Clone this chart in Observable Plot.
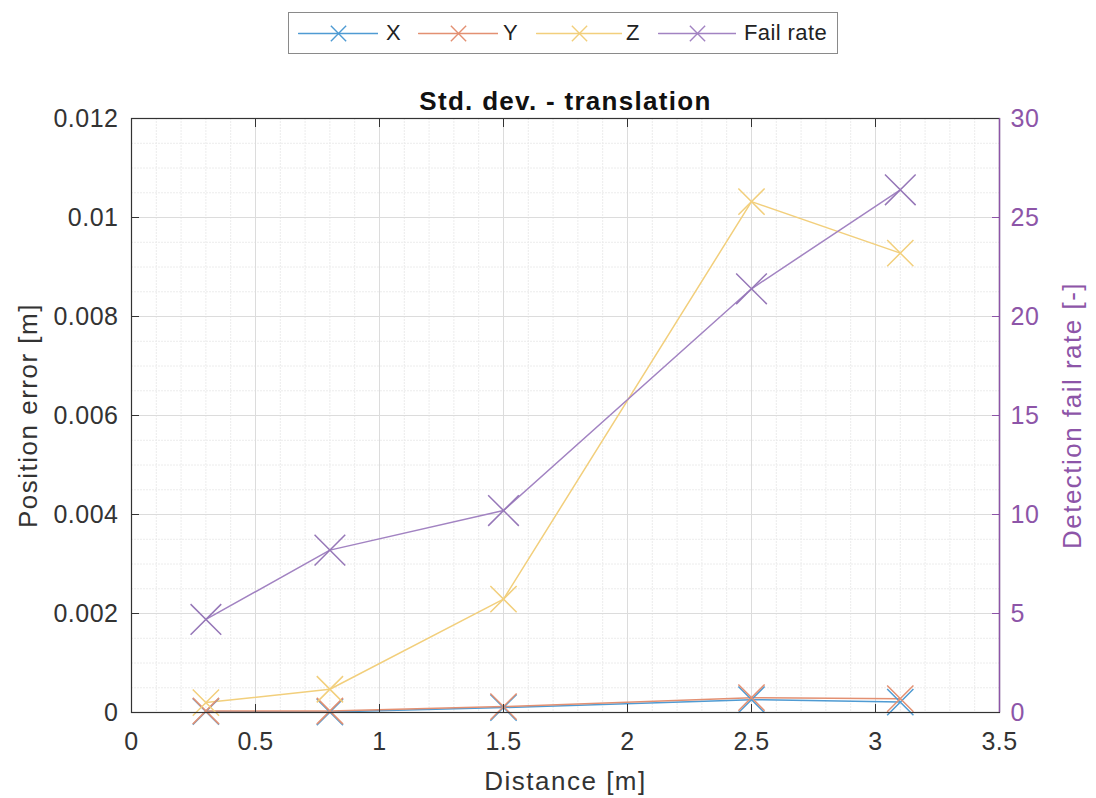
<!DOCTYPE html>
<html>
<head>
<meta charset="utf-8">
<script src="https://cdn.jsdelivr.net/npm/d3@7"></script>
<script src="https://cdn.jsdelivr.net/npm/@observablehq/plot@0.6"></script>
<style>
  body { margin: 0; background: #fff; font-family: "Liberation Sans", Arial, sans-serif; }
  #wrap { position: relative; width: 1096px; height: 798px; }
  #legend { position: absolute; left: 288px; top: 12px; width: 550px; height: 42px; border: 1px solid #8a8a8a; box-sizing: border-box; background: #fff; font-size: 22px; color: #222; }
  .sw { position: absolute; top: 8px; display: block; }
  .lab { position: absolute; top: 7px; letter-spacing: 0.4px; line-height: 26px; }
</style>
</head>
<body>
<div id="wrap">
  <div id="chart"></div>
  <div id="legend"></div>
</div>
<script>
const distance = [0.3, 0.8, 1.5, 2.5, 3.1];
const stdX = [0.00002, 0.00001, 0.00010, 0.00026, 0.00021];
const stdY = [0.00003, 0.00003, 0.00012, 0.00030, 0.00028];
const stdZ = [0.00020, 0.00047, 0.00229, 0.01032, 0.00928];
const failRate = [4.7, 8.2, 10.2, 21.4, 26.4];
const seriesNames = ["X", "Y", "Z", "Fail rate"];
const lineColors = ["#4f9bd3", "#e39072", "#f2cf7c", "#a283c2"];
const xTicks = [0, 0.5, 1, 1.5, 2, 2.5, 3, 3.5];
const yTicks = [0, 0.002, 0.004, 0.006, 0.008, 0.01, 0.012];
const rightTicks = [0, 5, 10, 15, 20, 25, 30];

const yMax = 0.012, rMax = 30;
const toLeft = v => v * yMax / rMax;

const rows = [];
[stdX, stdY, stdZ].forEach((arr, s) => arr.forEach((v, i) => rows.push({series: seriesNames[s], d: distance[i], v})));
failRate.forEach((v, i) => rows.push({series: "Fail rate", d: distance[i], v: toLeft(v)}));

const xMinor = d3.range(0, 3.5001, 0.1).map(v => +v.toFixed(2));
const yMinor = d3.range(0, 0.01201, 0.0005).map(v => +v.toFixed(5));
const purple = "#8d55a8";

const chart = Plot.plot({
  width: 1096,
  height: 798,
  marginLeft: 131,
  marginRight: 97,
  marginTop: 118,
  marginBottom: 86,
  style: {fontFamily: "Liberation Sans, Arial, sans-serif", background: "#fff"},
  x: {domain: [0, 3.5]},
  y: {domain: [0, yMax]},
  color: {domain: seriesNames, range: lineColors},
  marks: [
    Plot.ruleX(xMinor, {stroke: "#ececec", strokeWidth: 1, strokeDasharray: "2,1"}),
    Plot.ruleY(yMinor, {stroke: "#ececec", strokeWidth: 1, strokeDasharray: "2,1"}),
    Plot.ruleX(xTicks, {stroke: "#dcdcdc", strokeWidth: 1}),
    Plot.ruleY(yTicks, {stroke: "#dcdcdc", strokeWidth: 1}),
    Plot.lineY(rows, {x: "d", y: "v", z: "series", stroke: "series", strokeWidth: 1.5}),
    Plot.dot(rows.filter(r => r.series !== "Fail rate"), {x: "d", y: "v", stroke: "series", symbol: "times", r: 12, strokeWidth: 1.5}),
    Plot.dot(rows.filter(r => r.series === "Fail rate"), {x: "d", y: "v", stroke: "#9677b8", symbol: "times", r: 14, strokeWidth: 1.5}),
    Plot.axisX({anchor: "bottom", ticks: xTicks, tickSize: -8, tickPadding: 28, tickFormat: d => d3.format("~g")(d), label: "Distance [m]", labelAnchor: "center", labelArrow: false, labelOffset: 77, color: "#333", fontSize: 25}),
    Plot.axisX({anchor: "top", ticks: xTicks, tickSize: -8, tickFormat: () => "", label: null, color: "#333"}),
    Plot.axisY({anchor: "left", ticks: yTicks, tickSize: -8, tickPadding: 21, tickFormat: d => d3.format("~g")(d), label: "Position error [m]", labelAnchor: "center", labelArrow: false, labelOffset: 113, color: "#333", fontSize: 25}),
    Plot.axisY({anchor: "right", ticks: rightTicks.map(toLeft), tickSize: -8, tickPadding: 19, tickFormat: (d, i) => String(rightTicks[i]), label: "Detection fail rate [-]", labelAnchor: "center", labelArrow: false, labelOffset: 81, color: purple, fontSize: 25}),
    Plot.frame({stroke: "#333", strokeWidth: 1.2}),
    Plot.ruleX([3.5], {stroke: purple, strokeWidth: 1.4}),
    Plot.text(["Std. dev. - translation"], {frameAnchor: "top", dy: -9, lineAnchor: "bottom", fontWeight: "bold", fontSize: 26, fill: "#111"})
  ]
});
document.getElementById("chart").appendChild(chart);

// letter spacing tweaks
const svg = d3.select(chart);
svg.selectAll('g[aria-label="x-axis label"] text, g[aria-label="y-axis label"] text').style("letter-spacing", "1.5px").attr("font-size", 26);
svg.selectAll('g[aria-label="x-axis tick label"] text, g[aria-label="y-axis tick label"] text').style("letter-spacing", "0.5px");
svg.selectAll('g[aria-label="text"] text').style("letter-spacing", "1.3px");

// legend
const legend = document.getElementById("legend");
const boxLeft = 288;
const items = [
  {x0: 298, x1: 378, lx: 386},
  {x0: 418, x1: 498, lx: 503},
  {x0: 536, x1: 622, lx: 626},
  {x0: 658, x1: 736, lx: 744}
];
seriesNames.forEach((name, i) => {
  const w = items[i].x1 - items[i].x0;
  const sw = Plot.plot({
    width: w, height: 24, margin: 0,
    x: {domain: [0, 1], axis: null}, y: {domain: [0, 1], axis: null},
    marks: [
      Plot.lineY([{x: 0, y: 0.5}, {x: 1, y: 0.5}], {x: "x", y: "y", stroke: lineColors[i], strokeWidth: 1.4}),
      Plot.dot([{x: 0.5, y: 0.5}], {x: "x", y: "y", stroke: lineColors[i], symbol: "times", r: 7, strokeWidth: 1.4})
    ]
  });
  sw.classList.add("sw");
  sw.style.left = (items[i].x0 - boxLeft - 1) + "px";
  legend.appendChild(sw);
  const lab = document.createElement("span");
  lab.className = "lab";
  lab.textContent = name;
  lab.style.left = (items[i].lx - boxLeft - 1) + "px";
  legend.appendChild(lab);
});
</script>
</body>
</html>
